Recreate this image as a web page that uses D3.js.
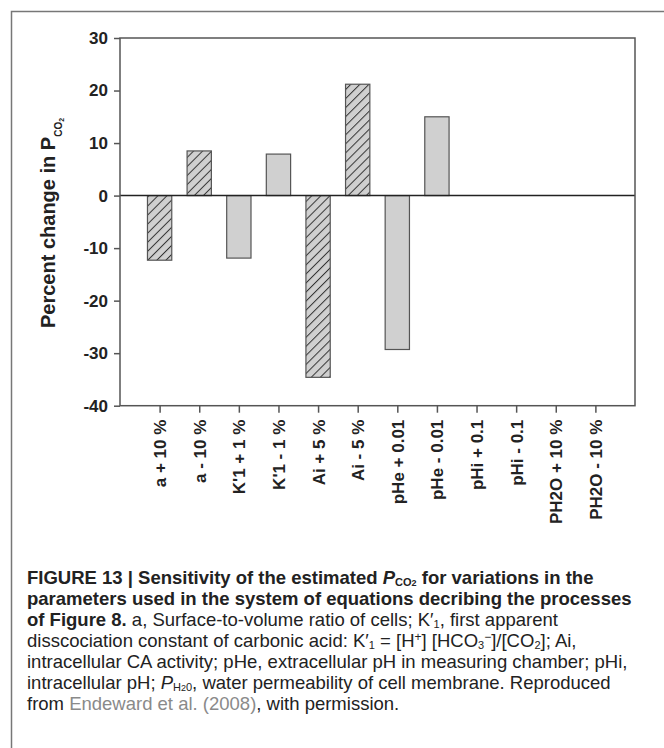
<!DOCTYPE html>
<html>
<head>
<meta charset="utf-8">
<script src="https://cdn.jsdelivr.net/npm/d3@7"></script>
<style>
  html, body { margin: 0; padding: 0; background: #fff; }
  svg { display: block; }
</style>
</head>
<body>
<svg id="chart" width="664" height="748"></svg>
<script>
// ---- Data ----
const categories = ["a + 10 %", "a - 10 %", "K'1 + 1 %", "K'1 - 1 %", "Ai + 5 %", "Ai - 5 %",
  "pHe + 0.01", "pHe - 0.01", "pHi + 0.1", "pHi - 0.1", "PH2O + 10 %", "PH2O - 10 %"];
const values = [-12.3, 8.5, -11.9, 7.9, -34.6, 21.2, -29.3, 15.0, 0, 0, 0, 0];
const hatched = [true, true, false, false, true, true, false, false, false, false, false, false];
const yTicks = [-40, -30, -20, -10, 0, 10, 20, 30];

(function () {
const svg = d3.select("#chart");
const FONT = "'Liberation Sans', Arial, Helvetica, sans-serif";
const pL = 120, pR = 635, pT = 38, pB = 405.7;

const x = d3.scalePoint().domain(categories).range([pL, pR]).padding(1);
const y = d3.scaleLinear().domain([-40, 30]).range([pB, pT]);
const barW = 24.3;

// outer figure frame (top + left edges)
svg.append("path").attr("d", "M11.5,760 V11.5 H670")
  .attr("fill", "none").attr("stroke", "#777").attr("stroke-width", 1.5);

// hatch pattern
const defs = svg.append("defs");
const pat = defs.append("pattern").attr("id", "hatch")
  .attr("patternUnits", "userSpaceOnUse").attr("width", 6.4).attr("height", 6.4)
  .attr("patternTransform", "rotate(45)");
pat.append("rect").attr("width", 6.4).attr("height", 6.4).attr("fill", "#d0d0d0");
pat.append("line").attr("x1", 0.5).attr("y1", 0).attr("x2", 0.5).attr("y2", 6.4)
  .attr("stroke", "#333").attr("stroke-width", 1);

// bars
const bars = categories.map((c, i) => ({ c, v: values[i], h: hatched[i] }));
svg.append("g").selectAll("rect").data(bars.filter(d => d.v !== 0)).join("rect")
  .attr("x", d => x(d.c) - barW / 2)
  .attr("y", d => y(Math.max(0, d.v)))
  .attr("width", barW)
  .attr("height", d => Math.abs(y(d.v) - y(0)))
  .attr("fill", d => d.h ? "url(#hatch)" : "#d0d0d0")
  .attr("stroke", "#555").attr("stroke-width", 1.2);

// zero line
svg.append("line").attr("x1", pL).attr("x2", pR).attr("y1", y(0)).attr("y2", y(0))
  .attr("stroke", "#222").attr("stroke-width", 1.5);

// plot frame
svg.append("rect").attr("x", pL).attr("y", pT).attr("width", pR - pL).attr("height", pB - pT)
  .attr("fill", "none").attr("stroke", "#555").attr("stroke-width", 1.5);

// y axis
const yAxis = svg.append("g").attr("transform", `translate(${pL},0)`)
  .call(d3.axisLeft(y).tickValues(yTicks).tickSize(6).tickPadding(6).tickFormat(d => String(d)));
yAxis.select(".domain").remove();
yAxis.selectAll("line").attr("stroke", "#555").attr("stroke-width", 1.5);
yAxis.selectAll("text").attr("font-family", FONT).attr("font-size", 17)
  .attr("font-weight", "bold").attr("fill", "#222");

// x axis
const xAxis = svg.append("g").attr("transform", `translate(0,${pB})`)
  .call(d3.axisBottom(x).tickSize(7).tickSizeOuter(0));
xAxis.select(".domain").remove();
xAxis.selectAll("line").attr("stroke", "#555").attr("stroke-width", 1.5);
xAxis.selectAll("text")
  .attr("font-family", FONT).attr("font-size", 17).attr("font-weight", "bold").attr("fill", "#222")
  .attr("text-anchor", "end")
  .attr("transform", "rotate(-90)")
  .attr("x", -14).attr("y", 0).attr("dy", "0.35em");

// rich text helper (runs inside one text element; a run with "line" starts a new line)
function richText(g, runs, x0, y0, lh) {
  let off = 0;
  runs.forEach(r => {
    const ts = g.append("tspan").text(r.t);
    if (r.line !== undefined) {
      ts.attr("x", x0).attr("y", y0 + r.line * lh);
      off = 0;
    } else {
      const shift = r.shift || 0;
      if (shift - off) ts.attr("dy", shift - off);
      off = shift;
    }
    if (r.b) ts.attr("font-weight", "bold");
    if (r.i) ts.attr("font-style", "italic");
    if (r.s) ts.attr("font-size", r.s);
    if (r.c) ts.attr("fill", r.c);
    if (r.dx) ts.attr("dx", r.dx);
  });
}

// y axis title
const yt = svg.append("text").attr("transform", "translate(55,328) rotate(-90)")
  .attr("font-family", FONT).attr("font-size", 20).attr("font-weight", "bold").attr("fill", "#222");
richText(yt, [
  { t: "Percent change in P", line: 0 },
  { t: "CO", s: 10, shift: 7 },
  { t: "2", s: 7, shift: 9 }
], 0, 0, 0);

// caption (single text element, one tspan group per line)
const capRuns = [
  { t: "FIGURE 13 | Sensitivity of the estimated ", b: 1, line: 0 }, { t: "P", b: 1, i: 1 },
  { t: "CO", b: 1, s: 11, shift: 2 }, { t: "2", b: 1, s: 9, shift: 2.3 }, { t: " for variations in the", b: 1 },
  { t: "parameters used in the system of equations decribing the processes", b: 1, line: 1 },
  { t: "of Figure 8.", b: 1, line: 2 }, { t: " a, Surface-to-volume ratio of cells; K′" },
  { t: "1", s: 11, shift: 2 }, { t: ", first apparent" },
  { t: "disscociation constant of carbonic acid: K′", line: 3 }, { t: "1", s: 11, shift: 2 },
  { t: " = [H" }, { t: "+", s: 12, shift: -6 }, { t: "] [HCO" }, { t: "3", s: 11, shift: 2 },
  { t: "−", s: 12, shift: -6 }, { t: "]/[CO" }, { t: "2", s: 11, shift: 2 }, { t: "]; Ai," },
  { t: "intracellular CA activity; pHe, extracellular pH in measuring chamber; pHi,", line: 4 },
  { t: "intracellular pH; ", line: 5 }, { t: "P", i: 1 }, { t: "H", s: 11, shift: 2 }, { t: "2", s: 9, shift: 2.3 },
  { t: "0", s: 11, shift: 2 }, { t: ", water permeability of cell membrane. Reproduced" },
  { t: "from ", line: 6 }, { t: "Endeward et al. (2008)", c: "#8a8a8a" }, { t: ", with permission." }
];
const cap = svg.append("text")
  .attr("font-family", FONT).attr("font-size", 18.5).attr("fill", "#222");
richText(cap, capRuns, 27, 583.5, 21);
})();
</script>
</body>
</html>
